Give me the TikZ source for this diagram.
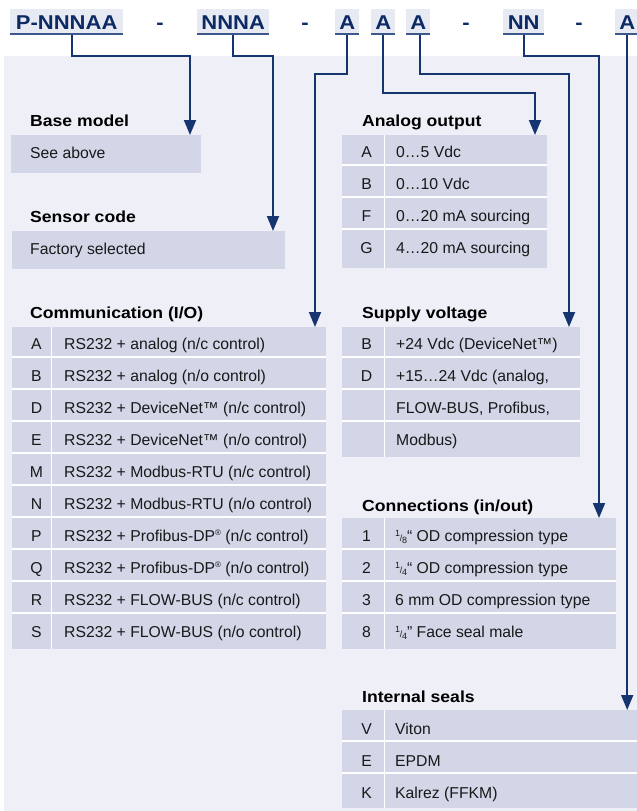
\documentclass[tikz,border=0pt]{standalone}
\usepackage{fontspec}
\setmainfont{Liberation Sans}
\newfontfamily\hdrfont{Liberation Sans}[FakeStretch=1.1]
\usetikzlibrary{arrows.meta}
\definecolor{bgpanel}{RGB}{239,240,247}
\definecolor{tblfill}{RGB}{210,214,231}
\definecolor{hdrfill}{RGB}{231,234,243}
\definecolor{hlinecol}{RGB}{60,88,140}
\definecolor{navy}{RGB}{12,42,100}
\definecolor{conncol}{RGB}{22,52,112}
\definecolor{txtcol}{RGB}{25,25,25}
\newcommand\regsize{\fontsize{15.75}{18}\selectfont}
\newcommand\smallfig{\fontsize{9}{9}\selectfont}
\newcommand\myfrac[2]{\raisebox{0.55ex}{\smallfig #1}\kern-0.02em{\smallfig/}\kern-0.02em\raisebox{-0.2ex}{\smallfig #2}}
\newcommand\myreg{\raisebox{0.75ex}{\fontsize{8}{8}\selectfont ®}}
\tikzset{
  tbl/.style={fill=tblfill, draw=none, inner sep=0pt, anchor=north west},
  sepline/.style={white, line width=1.5pt},
  lett/.style={anchor=base, font=\regsize, text=txtcol, inner sep=0pt},
  txt/.style={anchor=base west, font=\regsize, text=txtcol, inner sep=0pt},
  ttl/.style={anchor=base west, font=\hdrfont\bfseries\fontsize{16}{19}\selectfont, text=black, inner sep=0pt},
  hdr/.style={fill=hdrfill, anchor=north west, inner xsep=0pt, inner ysep=5.85pt,
    text height=14.3pt, text depth=0pt, font=\hdrfont\bfseries\fontsize{20}{24}\selectfont, text=navy},
  dsh/.style={anchor=base, inner sep=0pt, font=\hdrfont\bfseries\fontsize{20}{24}\selectfont, text=navy},
  hline/.style={draw=hlinecol, line width=2pt},
  arr/.style={draw=conncol, line width=1.8pt, -{Triangle[length=15pt,width=12pt]}},
}
\begin{document}
\begin{tikzpicture}[x=1pt,y=-1pt]
\useasboundingbox (0,0) rectangle (637,811);
\clip (0,0) rectangle (637,811);
\fill[white] (0,0) rectangle (637,811);
\fill[bgpanel] (4,56) rectangle (640,815);

% ---------- header code ----------
\node[hdr, minimum width=113] (hP) at (10,9) {P-NNNAA};
\node[dsh] (d1) at (160,29.15) {-};
\node[hdr, minimum width=72] (hN) at (197,9) {NNNA};
\node[dsh] (d2) at (305,29.15) {-};
\node[hdr, minimum width=24] (hA1) at (335,9) {A};
\node[hdr, minimum width=24] (hA2) at (371,9) {A};
\node[hdr, minimum width=24] (hA3) at (406,9) {A};
\node[dsh] (d3) at (466,29.15) {-};
\node[hdr, minimum width=41] (hNN) at (503,9) {NN};
\node[dsh] (d4) at (579,29.15) {-};
\node[hdr, minimum width=24] (hA4) at (615,9) {A};
\foreach \h in {hP,hN,hA1,hA2,hA3,hNN,hA4}
  \draw[hline] ([yshift=1pt]\h.south west) -- ([yshift=1pt]\h.south east);

% ---------- Base model ----------
\node[ttl] (ttBase) at (30,126) {Base model};
\node[tbl, minimum width=190, minimum height=38] (tBase) at (11,135) {};
\node[txt] (xBase) at (30,158) {See above};

% ---------- Sensor code ----------
\node[ttl] (ttSens) at (30,222.5) {Sensor code};
\node[tbl, minimum width=273, minimum height=38] (tSens) at (12,231) {};
\node[txt] (xSens) at (30,254) {Factory selected};

% ---------- Communication ----------
\node[ttl] (ttComm) at (30,318) {Communication (I/O)};
\node[tbl, minimum width=314, minimum height=322] (tComm) at (12,327) {};
\foreach \k in {1,...,9}
  \draw[sepline] (12,{325+32*\k}) -- (326,{325+32*\k});
\draw[sepline] (51.5,327) -- (51.5,649);
\foreach \l/\t [count=\i from 0] in {
  A/{RS232 + analog (n/c control)},
  B/{RS232 + analog (n/o control)},
  D/{RS232 + DeviceNet™ (n/c control)},
  E/{RS232 + DeviceNet™ (n/o control)},
  M/{RS232 + Modbus-RTU (n/c control)},
  N/{RS232 + Modbus-RTU (n/o control)},
  P/{RS232 + Profibus-DP\myreg\ (n/c control)},
  Q/{RS232 + Profibus-DP\myreg\ (n/o control)},
  R/{RS232 + FLOW-BUS (n/c control)},
  S/{RS232 + FLOW-BUS (n/o control)}} {
  \node[lett] (cl\i) at (36.5,{325+32*\i+24.5}) {\l};
  \node[txt] (ct\i) at (64,{325+32*\i+24.5}) {\t};
}

% ---------- Analog output ----------
\node[ttl] (ttAna) at (362,126) {Analog output};
\node[tbl, minimum width=205, minimum height=133] (tAna) at (342,135) {};
\foreach \k in {1,2,3}
  \draw[sepline] (342,{133+32*\k}) -- (547,{133+32*\k});
\draw[sepline] (384.3,135) -- (384.3,268);
\foreach \l/\t [count=\i from 0] in {
  A/{0…5 Vdc}, B/{0…10 Vdc}, F/{0…20 mA sourcing}, G/{4…20 mA sourcing}} {
  \node[lett] (al\i) at (366.5,{133+32*\i+24.5}) {\l};
  \node[txt] (at\i) at (396,{133+32*\i+24.5}) {\t};
}

% ---------- Supply voltage ----------
\node[ttl] (ttSup) at (362,318) {Supply voltage};
\node[tbl, minimum width=238, minimum height=130] (tSup) at (342,327) {};
\foreach \k in {1,2,3}
  \draw[sepline] (342,{325+32*\k}) -- (580,{325+32*\k});
\draw[sepline] (384.3,327) -- (384.3,457);
\node[lett] (sl0) at (366.5,349.5) {B};
\node[txt] (st0) at (396,349.5) {+24 Vdc (DeviceNet™)};
\node[lett] (sl1) at (366.5,381.5) {D};
\node[txt] (st1) at (396,381.5) {+15…24 Vdc (analog,};
\node[txt] (st2) at (396,413.5) {FLOW-BUS, Profibus,};
\node[txt] (st3) at (396,445.5) {Modbus)};

% ---------- Connections ----------
\node[ttl] (ttConn) at (362,511.5) {Connections (in/out)};
\node[tbl, minimum width=274, minimum height=131] (tConn) at (342,518) {};
\foreach \k in {1,2,3}
  \draw[sepline] (342,{517+32*\k}) -- (616,{517+32*\k});
\draw[sepline] (384.3,518) -- (384.3,649);
\foreach \l/\t [count=\i from 0] in {
  1/{\myfrac{1}{8}“ OD compression type},
  2/{\myfrac{1}{4}“ OD compression type},
  3/{6 mm OD compression type},
  8/{\myfrac{1}{4}” Face seal male}} {
  \node[lett] (nl\i) at (366.5,{517+32*\i+24.5}) {\l};
  \node[txt] (nt\i) at (395,{517+32*\i+24.5}) {\t};
}

% ---------- Internal seals ----------
\node[ttl] (ttSeal) at (362,702) {Internal seals};
\node[tbl, minimum width=300, minimum height=98] (tSeal) at (342,710) {};
\foreach \k in {1,2}
  \draw[sepline] (342,{709+32*\k}) -- (642,{709+32*\k});
\draw[sepline] (384.3,710) -- (384.3,808);
\foreach \l/\t [count=\i from 0] in {
  V/{Viton}, E/{EPDM}, K/{Kalrez (FFKM)}} {
  \node[lett] (el\i) at (366.5,{709+32*\i+25.5}) {\l};
  \node[txt] (et\i) at (395,{709+32*\i+25.5}) {\t};
}

% ---------- connectors ----------
\coordinate (b1) at (190,56);
\coordinate (b2) at (273,56);
\coordinate (b3) at (315,74);
\coordinate (b4) at (535,93);
\coordinate (b5) at (569,74);
\coordinate (b6) at (599,56);
\draw[arr] ([xshift=5.5pt]hP.south) |- (b1) -- (tBase.north -| b1);
\draw[arr] (hN.south) |- (b2) -- (tSens.north -| b2);
\draw[arr] (hA1.south) |- (b3) -- (tComm.north -| b3);
\draw[arr] (hA2.south) |- (b4) -- (tAna.north -| b4);
\draw[arr] ([xshift=2pt]hA3.south) |- (b5) -- (tSup.north -| b5);
\draw[arr] (hNN.south) |- (b6) -- (tConn.north -| b6);
\draw[arr] (hA4.south) -- (tSeal.north -| hA4.south);
\end{tikzpicture}
\end{document}
